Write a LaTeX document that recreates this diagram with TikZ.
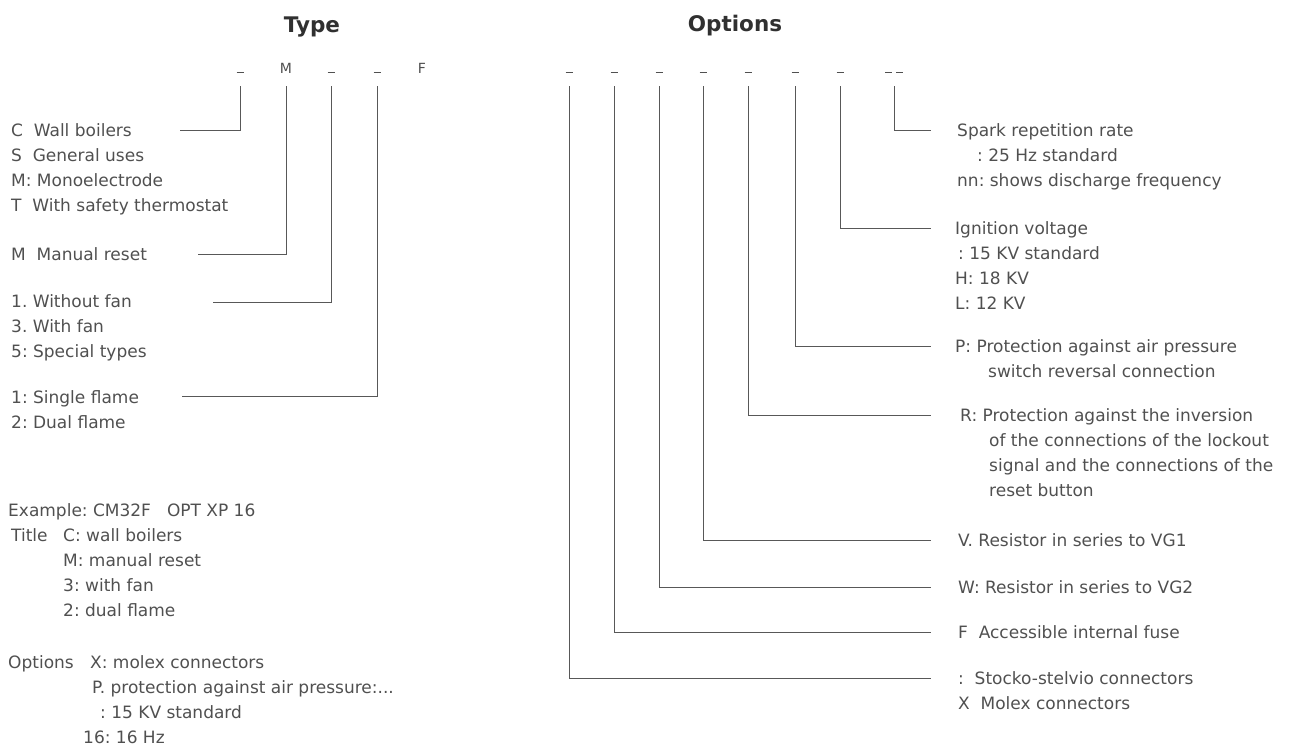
\documentclass[tikz,border=0pt]{standalone}
\usepackage{fontspec}
\setmainfont{DejaVu Sans}
\usetikzlibrary{positioning}
\definecolor{ink}{HTML}{505050}
\definecolor{wire}{HTML}{585858}
\definecolor{head}{HTML}{303030}

\begin{document}
\begin{tikzpicture}[x=1pt, y=-1pt]
	\tikzstyle{Head} = [anchor=base, inner sep=0pt, text=head, font=\fontsize{21.5}{24}\selectfont\bfseries]
	\tikzstyle{Slot} = [anchor=base, inner sep=0pt, text depth=13pt, text=ink, font=\fontsize{14}{16}\selectfont]
	\tikzstyle{Line} = [anchor=base west, inner sep=0pt, text=ink, font=\fontsize{17}{20}\selectfont]
	\tikzstyle{Wire} = [draw=wire, line width=0.9pt]
	
	\useasboundingbox (0,0) rectangle (1295,745);
	
	\node[name=type, Head] at (312,32) {Type};
	\node[name=opts, Head] at (735,31) {Options};
	
	% type code
	\node[name=ty1, Slot] at (240,73) {\rule{7pt}{0.8pt}};
	\node[name=ty2, Slot] at (286,73) {M};
	\node[name=ty3, Slot] at (331,73) {\rule{7pt}{0.8pt}};
	\node[name=ty4, Slot] at (377,73) {\rule{7pt}{0.8pt}};
	\node[name=ty5, Slot] at (422,73) {F};
	
	\node[name=ta1, Line] at (11,136) {C\ \ Wall boilers};
	\node[name=ta2, below=25pt of ta1.base west, Line] {S\ \ General uses};
	\node[name=ta3, below=25pt of ta2.base west, Line] {M:\ Monoelectrode};
	\node[name=ta4, below=25pt of ta3.base west, Line] {T\ \ With safety thermostat};
	
	\node[name=tb1, Line] at (11,260) {M\ \ Manual reset};
	
	\node[name=tc1, Line] at (11,307) {1.\ Without fan};
	\node[name=tc2, below=25pt of tc1.base west, Line] {3.\ With fan};
	\node[name=tc3, below=25pt of tc2.base west, Line] {5:\ Special types};
	
	\node[name=td1, Line] at (11,403) {1:\ Single flame};
	\node[name=td2, below=25pt of td1.base west, Line] {2:\ Dual flame};
	
	\coordinate (te1) at (180,130);
	\coordinate (te2) at (198,254);
	\coordinate (te3) at (213,302);
	\coordinate (te4) at (182,396);
	
	\draw[Wire] (ty1.south) |- (te1);
	\draw[Wire] (ty2.south) |- (te2);
	\draw[Wire] (ty3.south) |- (te3);
	\draw[Wire] (ty4.south) |- (te4);
	
	% example
	\node[name=ex1, Line] at (8,516) {Example:\ CM32F\hspace{16pt}OPT XP 16};
	\node[name=ex2, below=25pt of ex1.base west, xshift=3pt, Line] {Title};
	\node[name=ex3, Line] at (63,541) {C:\ wall boilers};
	\node[name=ex4, below=25pt of ex3.base west, Line] {M:\ manual reset};
	\node[name=ex5, below=25pt of ex4.base west, Line] {3:\ with fan};
	\node[name=ex6, below=25pt of ex5.base west, Line] {2:\ dual flame};
	\node[name=ex7, Line] at (8,668) {Options};
	\node[name=ex8, Line] at (90,668) {X:\ molex connectors};
	\node[name=ex9, Line] at (92,693) {P.\ protection against air pressure:...};
	\node[name=ex10, Line] at (100,718) {:\ 15 KV standard};
	\node[name=ex11, Line] at (83,743) {16:\ 16 Hz};
	
	% options code
	\node[name=op1, Slot] at (569,73) {\rule{7pt}{0.8pt}};
	\node[name=op2, Slot] at (614,73) {\rule{7pt}{0.8pt}};
	\node[name=op3, Slot] at (659,73) {\rule{7pt}{0.8pt}};
	\node[name=op4, Slot] at (703,73) {\rule{7pt}{0.8pt}};
	\node[name=op5, Slot] at (748,73) {\rule{7pt}{0.8pt}};
	\node[name=op6, Slot] at (795,73) {\rule{7pt}{0.8pt}};
	\node[name=op7, Slot] at (840,73) {\rule{7pt}{0.8pt}};
	\node[name=op8, Slot] at (894,73) {\rule{7pt}{0.8pt}\hspace{4pt}\rule{7pt}{0.8pt}};
	
	\node[name=ra1, Line] at (957,136) {Spark repetition rate};
	\node[name=ra2, below=25pt of ra1.base west, xshift=20pt, Line] {:\ 25 Hz standard};
	\node[name=ra3, below=50pt of ra1.base west, Line] {nn:\ shows discharge frequency};
	
	\node[name=rb1, Line] at (955,234) {Ignition voltage};
	\node[name=rb2, below=25pt of rb1.base west, xshift=3pt, Line] {:\ 15 KV standard};
	\node[name=rb3, below=50pt of rb1.base west, Line] {H:\ 18 KV};
	\node[name=rb4, below=75pt of rb1.base west, Line] {L:\ 12 KV};
	
	\node[name=rc1, Line] at (955,352) {P:\ Protection against air pressure};
	\node[name=rc2, below=25pt of rc1.base west, xshift=33pt, Line] {switch reversal connection};
	
	\node[name=rd1, Line] at (960,421) {R:\ Protection against the inversion};
	\node[name=rd2, below=25pt of rd1.base west, xshift=29pt, Line] {of the connections of the lockout};
	\node[name=rd3, below=25pt of rd2.base west, Line] {signal and the connections of the};
	\node[name=rd4, below=25pt of rd3.base west, Line] {reset button};
	
	\node[name=re1, Line] at (958,546) {V.\ Resistor in series to VG1};
	\node[name=rf1, Line] at (958,593) {W:\ Resistor in series to VG2};
	\node[name=rg1, Line] at (958,638) {F\ \ Accessible internal fuse};
	\node[name=rh1, Line] at (958,684) {:\ \ Stocko-stelvio connectors};
	\node[name=rh2, below=25pt of rh1.base west, Line] {X\ \ Molex connectors};
	
	\coordinate (oe1) at (931,678);
	\coordinate (oe2) at (931,632);
	\coordinate (oe3) at (931,587);
	\coordinate (oe4) at (931,540);
	\coordinate (oe5) at (931,415);
	\coordinate (oe6) at (931,346);
	\coordinate (oe7) at (931,228);
	\coordinate (oe8) at (931,130);
	
	\draw[Wire] (op1.south) |- (oe1);
	\draw[Wire] (op2.south) |- (oe2);
	\draw[Wire] (op3.south) |- (oe3);
	\draw[Wire] (op4.south) |- (oe4);
	\draw[Wire] (op5.south) |- (oe5);
	\draw[Wire] (op6.south) |- (oe6);
	\draw[Wire] (op7.south) |- (oe7);
	\draw[Wire] (op8.south) |- (oe8);
\end{tikzpicture}
\end{document}
